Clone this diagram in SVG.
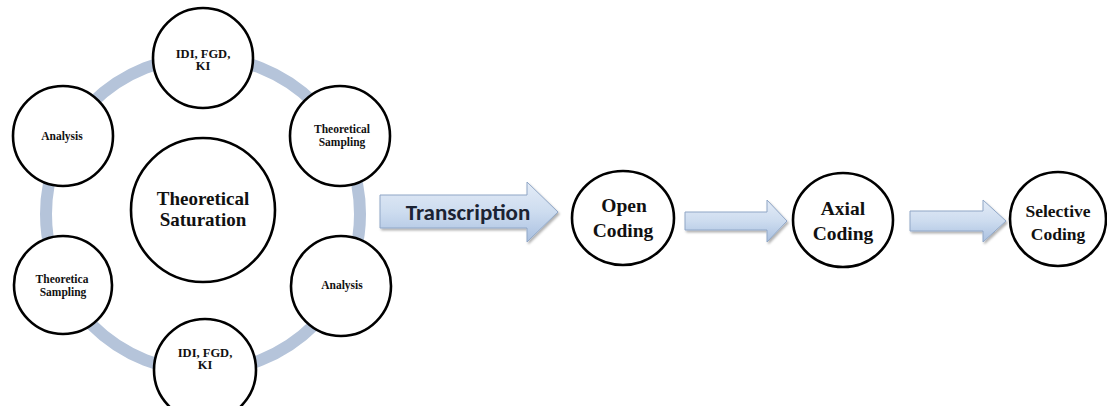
<svg xmlns="http://www.w3.org/2000/svg" width="1107" height="406" viewBox="0 0 1107 406">
<style>
.node{fill:#fff;stroke:#000;stroke-width:2.6}
text.t{font-family:'Liberation Serif','DejaVu Serif',serif;font-weight:bold;fill:#111;text-anchor:middle}
.s{font-size:11.5px}
.m{font-size:12.5px}
.l{font-size:19px}
.c{font-size:19.5px}
.arrow{fill:url(#ag);stroke:#8fa6c6;stroke-width:1}
</style>
<defs>
<linearGradient id="ag" x1="0" y1="0" x2="0" y2="1">
<stop offset="0" stop-color="#e4ecf7"/>
<stop offset="0.5" stop-color="#cddcef"/>
<stop offset="1" stop-color="#a9c0e0"/>
</linearGradient>
<filter id="sh" x="-10%" y="-20%" width="130%" height="150%">
<feDropShadow dx="1.5" dy="2" stdDeviation="1.2" flood-color="#000" flood-opacity="0.3"/>
</filter>
</defs>
<g id="connectors">
<circle cx="203" cy="214" r="157" fill="none" stroke="#b5c4da" stroke-width="12"/>
<path class="arrow" filter="url(#sh)" d="M380,195 H527 V182 L558,212 L527,242 V228 H380 Z"/>
<path class="arrow" filter="url(#sh)" d="M685,212 H767 V200 L787,221 L767,242 V230 H685 Z"/>
<path class="arrow" filter="url(#sh)" d="M910,211 H983 V200 L1006,221 L983,242 V231 H910 Z"/>
<text x="468" y="220" font-family="Carlito, 'Open Sans', 'Liberation Sans', sans-serif" font-weight="bold" font-size="23" fill="#1b2333" text-anchor="middle">Transcription</text>
</g>
<g id="n-center"><circle class="node" cx="203" cy="210" r="72"/><text class="t l" x="203" y="205">Theoretical</text><text class="t l" x="203" y="226">Saturation</text></g>
<g id="n-top"><circle class="node" cx="203" cy="58" r="50"/><text class="t m" x="203" y="58">IDI, FGD,</text><text class="t m" x="203" y="70">KI</text></g>
<g id="n-analysis-l"><circle class="node" cx="63" cy="136" r="50"/><text class="t s" x="62" y="140">Analysis</text></g>
<g id="n-ts-r"><circle class="node" cx="340" cy="136" r="50"/><text class="t s" x="342" y="133">Theoretical</text><text class="t s" x="342" y="146">Sampling</text></g>
<g id="n-ts-l"><circle class="node" cx="63" cy="285" r="49"/><text class="t s" x="62" y="283">Theoretica</text><text class="t s" x="63" y="296">Sampling</text></g>
<g id="n-analysis-r"><circle class="node" cx="341" cy="286" r="50"/><text class="t s" x="342" y="289">Analysis</text></g>
<g id="n-bottom"><circle class="node" cx="205" cy="370" r="51"/><text class="t m" x="205" y="357">IDI, FGD,</text><text class="t m" x="205" y="369">KI</text></g>
<g id="n-open"><ellipse class="node" cx="623" cy="218" rx="51" ry="47"/><text class="t c" x="624" y="212">Open</text><text class="t c" x="623" y="237">Coding</text></g>
<g id="n-axial"><ellipse class="node" cx="843" cy="220" rx="50" ry="47"/><text class="t c" x="843" y="215">Axial</text><text class="t c" x="843" y="240">Coding</text></g>
<g id="n-selective"><ellipse class="node" cx="1058" cy="219" rx="48" ry="47"/><text class="t" style="font-size:17.5px" x="1058" y="217">Selective</text><text class="t" style="font-size:17.5px" x="1058" y="240">Coding</text></g>
</svg>
